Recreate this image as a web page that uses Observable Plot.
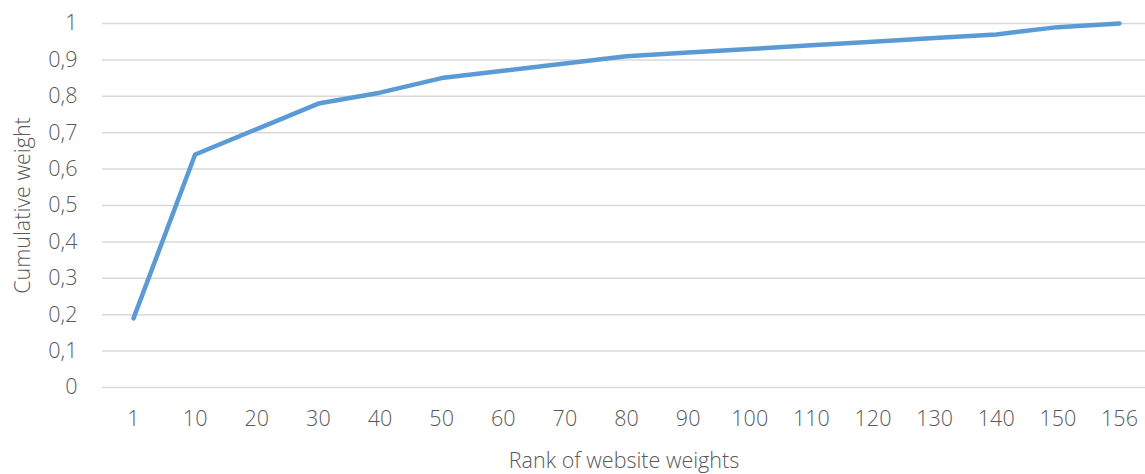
<!DOCTYPE html>
<html>
<head>
<meta charset="utf-8">
<script src="https://cdn.jsdelivr.net/npm/d3@7"></script>
<script src="https://cdn.jsdelivr.net/npm/@observablehq/plot@0.6"></script>
<style>
  html, body { margin: 0; padding: 0; background: #fff; }
  svg { font-family: "Open Sans", Lato, sans-serif; }
</style>
</head>
<body>
<div id="chart"></div>
<script>
const ranks = ["1","10","20","30","40","50","60","70","80","90","100","110","120","130","140","150","156"];
const cumulativeWeight = [0.19,0.64,0.71,0.78,0.81,0.85,0.87,0.89,0.91,0.92,0.93,0.94,0.95,0.96,0.97,0.99,1.0];
const yTicks = [0,0.1,0.2,0.3,0.4,0.5,0.6,0.7,0.8,0.9,1];

const data = ranks.map((r, i) => ({rank: r, weight: cumulativeWeight[i]}));

const chart = Plot.plot({
  width: 1145,
  height: 474,
  marginLeft: 102,
  marginRight: 0,
  marginTop: 23,
  marginBottom: 87,
  style: {fontSize: "21.5px", color: "#595959", fontWeight: 300},
  x: {type: "point", domain: ranks, range: [133, 1119], padding: 0, round: false},
  y: {domain: [0, 1]},
  marks: [
    Plot.ruleY(yTicks, {stroke: "#d9d9d9", strokeWidth: 1.5}),
    Plot.axisY({
      ticks: yTicks, tickSize: 0, tickPadding: 25,
      tickFormat: d => String(d).replace(".", ","),
      fill: "#595959",
      label: "Cumulative weight", labelAnchor: "center", labelOffset: 88, labelArrow: "none"
    }),
    Plot.axisX({
      tickSize: 0, tickPadding: 23,
      fill: "#595959",
      label: "Rank of website weights", labelAnchor: "center", labelOffset: 80, labelArrow: "none"
    }),
    Plot.line(data, {x: "rank", y: "weight", stroke: "#5b9bd5", strokeWidth: 4.5, strokeLinecap: "round", strokeLinejoin: "round"})
  ]
});
document.getElementById("chart").appendChild(chart);
</script>
</body>
</html>
